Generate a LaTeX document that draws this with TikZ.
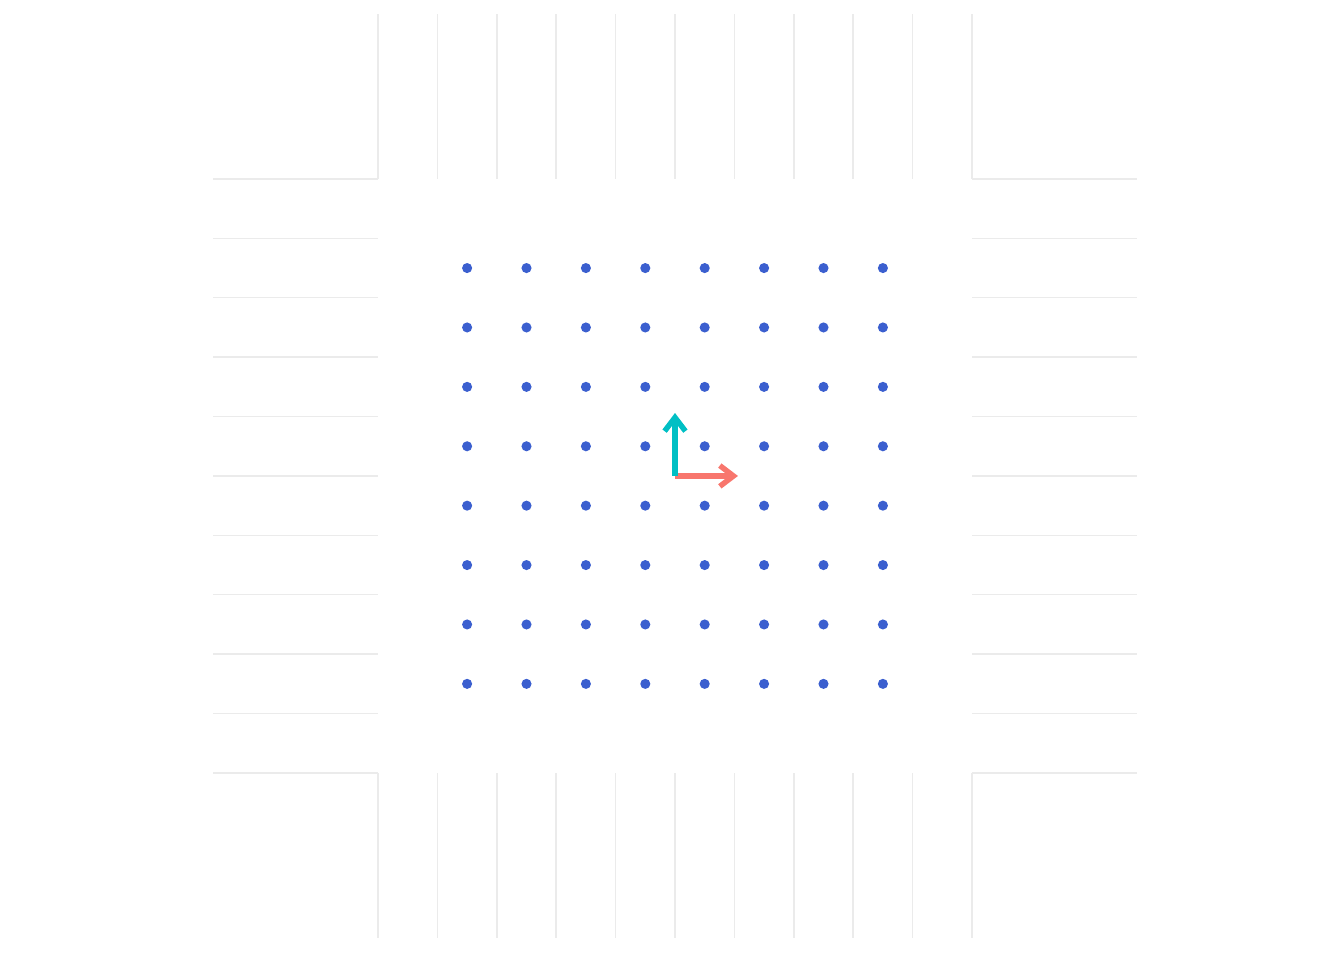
\documentclass[tikz,border=0pt]{standalone}
\usetikzlibrary{arrows.meta}
\definecolor{gridgray}{HTML}{EBEBEB}
\definecolor{dotblue}{HTML}{3B5FCF}
\definecolor{redarrow}{HTML}{F8766D}
\definecolor{cyanarrow}{HTML}{00BFC4}
\tikzset{
  gridline/.style={draw=gridgray, line width=0.7pt},
  latticedot/.style={fill=dotblue},
  basisvec/.style={line width=2.7pt, -{Straight Barb[length=2.3mm,width=3.5mm,line width=2.6pt]}}
}
\begin{document}
\begin{tikzpicture}
\useasboundingbox (-11.364,-8.148) rectangle (11.263,8.013);
\foreach \i in {-5,...,5}{
  \draw[gridline] (\i,5) -- (\i,7.78);
  \draw[gridline] (\i,-5) -- (\i,-7.78);
  \draw[gridline] (-7.78,\i) -- (-5,\i);
  \draw[gridline] (5,\i) -- (7.78,\i);
}
\foreach \x in {-3.5,-2.5,...,3.5}{
  \foreach \y in {-3.5,-2.5,...,3.5}{
    \fill[latticedot] (\x,\y) circle (0.085);
  }
}
\coordinate (O) at (0,0);
\coordinate (E1) at (1.06,0);
\coordinate (E2) at (0,1.06);
\draw[basisvec, redarrow] (O) -- (E1);
\draw[basisvec, cyanarrow] (O) -- (E2);
\end{tikzpicture}
\end{document}
